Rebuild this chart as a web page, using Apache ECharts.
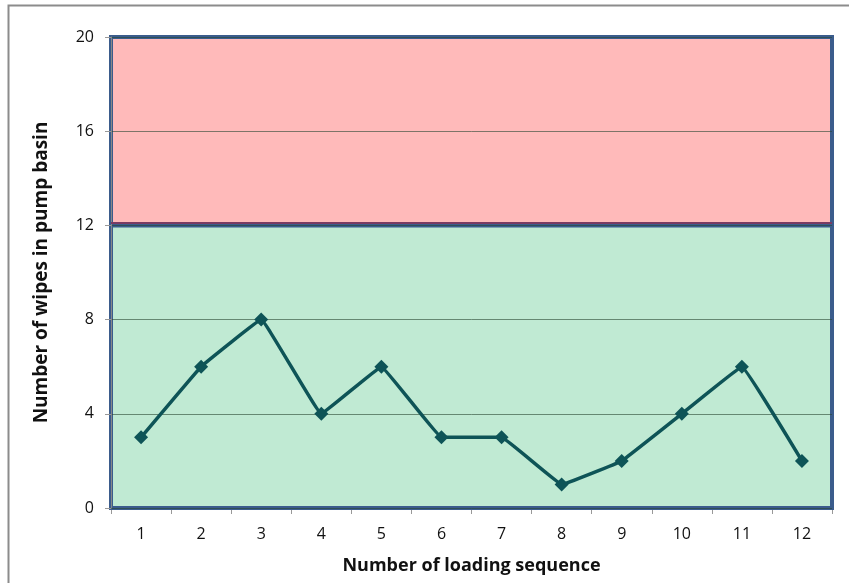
<!DOCTYPE html>
<html>
<head>
<meta charset="utf-8">
<script src="https://cdn.jsdelivr.net/npm/echarts@6/dist/echarts.min.js"></script>
<style>html,body{margin:0;padding:0;background:#fff}#c{width:849px;height:583px}</style>
</head>
<body>
<div id="c"></div>
<script>
const categories = ['1','2','3','4','5','6','7','8','9','10','11','12'];
const wipes = [3,6,8,4,6,3,3,1,2,4,6,2];
const yTicks = [0,4,8,12,16,20];
const safeZone = [0,12];
const alarmZone = [12,20];

const chart = echarts.init(document.getElementById('c'));
const FONT = 'Open Sans';
chart.setOption({
  animation:false,
  graphic:[{type:'rect',shape:{x:8.5,y:5.5,width:900,height:700},style:{fill:'none',stroke:'#8c8c8c',lineWidth:2},z:0}],
  grid:{left:111,right:17,top:37,bottom:75},
  xAxis:{type:'category',data:categories,boundaryGap:true,
    name:'Number of loading sequence',nameLocation:'middle',nameGap:49,
    nameTextStyle:{fontFamily:FONT,fontWeight:'bold',fontSize:18,color:'#111'},
    axisLine:{lineStyle:{color:'#888'}},
    axisTick:{show:true,length:6,lineStyle:{color:'#999'}},
    axisLabel:{fontFamily:FONT,fontSize:16,color:'#111',margin:18}},
  yAxis:{type:'value',min:yTicks[0],max:yTicks[yTicks.length-1],interval:4,z:3,
    name:'Number of wipes in pump basin',nameLocation:'middle',nameGap:60,
    nameTextStyle:{fontFamily:FONT,fontWeight:'bold',fontSize:19,color:'#111'},
    axisLine:{show:true,lineStyle:{color:'#888'}},
    axisTick:{show:true,length:6,lineStyle:{color:'#999'}},
    axisLabel:{fontFamily:FONT,fontSize:16,color:'#111',margin:17},
    splitLine:{show:true,lineStyle:{color:'rgba(40,70,50,0.6)',width:1}}},
  series:[
    {type:'line',data:[],z:1,silent:true,
      markArea:{silent:true,itemStyle:{borderColor:'#3b5c8c',borderWidth:4},data:[
        [{yAxis:alarmZone[0],itemStyle:{color:'#ffbaba',borderColor:'#3b5c8c',borderWidth:4}},{yAxis:alarmZone[1]}],
        [{yAxis:safeZone[0],itemStyle:{color:'#c0ead3',borderColor:'#3b5c8c',borderWidth:4}},{yAxis:safeZone[1]}]
      ]}},
    {type:'line',data:[],z:2,silent:true,
      markLine:{silent:true,symbol:'none',label:{show:false},
        lineStyle:{color:'#7a3b62',width:2,type:'solid'},
        data:[{yAxis:alarmZone[0]+0.12}]}},
    {type:'line',data:wipes,smooth:0.05,z:5,
      symbol:'diamond',symbolSize:14,
      lineStyle:{color:'#0e5457',width:3.5},
      itemStyle:{color:'#0e5457'}}
  ]
});
</script>
</body>
</html>
